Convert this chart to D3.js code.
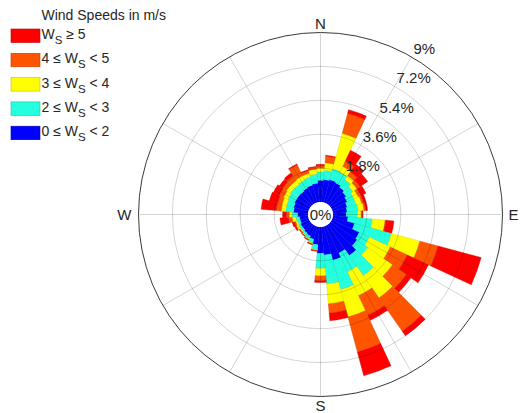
<!DOCTYPE html>
<html>
<head>
<meta charset="utf-8">
<script src="https://cdn.jsdelivr.net/npm/d3@7"></script>
<style>
  body { margin: 0; background: #fff; }
  svg { display: block; }
  text { font-family: "Liberation Sans", Arial, Helvetica, sans-serif; fill: #262626; }
</style>
</head>
<body>
<svg id="chart" width="520" height="413"></svg>
<script>
// Direction bins (degrees, clockwise from north), 10° wide
const directions = d3.range(0, 360, 10);

// Frequency (%) of each speed class per direction bin
const ws0to2 = [1.15,1.20,1.25,1.20,1.10,1.00,0.90,0.80,0.75,0.70,0.80,1.20,1.60,1.70,2.00,1.60,1.85,1.50,
                1.40,0.95,0.70,0.60,0.55,0.50,0.50,0.45,0.45,0.55,0.77,0.80,0.85,0.85,0.85,0.90,0.95,1.00];
const ws2to3 = [0.45,0.50,0.60,0.60,0.50,0.45,0.40,0.50,0.60,0.60,1.30,2.04,0.60,0.70,1.30,1.10,1.61,1.54,
                0.80,0.25,0.20,0.15,0.13,0.12,0.12,0.15,0.20,0.30,0.43,0.40,0.40,0.45,0.45,0.45,0.45,0.50];
const ws3to4 = [0.20,0.40,1.95,0.35,0.25,0.25,0.25,0.30,0.30,0.20,0.68,1.56,1.23,1.60,1.45,1.40,1.51,1.06,
                0.40,0.05,0.05,0.05,0.04,0.05,0.13,0.10,0.20,0.15,0.23,0.25,0.25,0.25,0.25,0.25,0.20,0.25];
const ws4to5 = [0.12,0.35,1.10,0.30,0.25,0.20,0.15,0.10,0.10,0.05,0.04,1.00,0.99,0.90,2.15,1.15,1.93,0.50,
                0.25,0.03,0.02,0.02,0.02,0.03,0.05,0.08,0.20,0.15,0.27,0.25,0.25,0.25,0.30,0.65,0.15,0.10];
const ws5up  = [0.08,0.05,0.20,0.65,0.50,0.50,0.30,0.15,0.10,0.05,0.43,2.37,1.24,0.30,0.30,0.30,1.30,0.40,
                0.10,0.02,0.03,0.03,0.02,0.03,0.05,0.12,0.45,0.20,0.80,0.45,0.35,0.20,0.20,0.05,0.05,0.05];

const speedSeries = [ws0to2, ws2to3, ws3to4, ws4to5, ws5up];
const speedColors = ["#0000ff", "#24ffdd", "#ffff00", "#ff5500", "#ff0000"];

// Legend entries, fastest first: [text before subscript, subscript, text after]
const legendTitle = "Wind Speeds in m/s";
const legendLabels = [
  ["W", "S", " \u2265 5"],
  ["4 \u2264 W", "S", " < 5"],
  ["3 \u2264 W", "S", " < 4"],
  ["2 \u2264 W", "S", " < 3"],
  ["0 \u2264 W", "S", " < 2"]
];

// Radial axis ticks (%) and compass labels
const radialTicks = [1.8, 3.6, 5.4, 7.2, 9];
const radialTickLabels = ["1.8%", "3.6%", "5.4%", "7.2%", "9%"];
const compass = ["N", "E", "S", "W"];

const svg = d3.select("#chart");
const cx = 320.5, cy = 214.5;
const r0 = 12.5, R = 182;
const rScale = d3.scaleLinear().domain([0, 9]).range([r0, R]);
const toRad = d => d * Math.PI / 180;

const g = svg.append("g").attr("transform", `translate(${cx},${cy})`);

// Stacked sectors, slowest class innermost
const arc = d3.arc();
const stack = [];
directions.forEach((dir, i) => {
  let base = 0;
  speedSeries.forEach((series, k) => {
    const v = series[i];
    stack.push({dir, k, lo: base, hi: base + v});
    base += v;
  });
});

g.append("g").selectAll("path")
  .data(stack)
  .join("path")
  .attr("d", d => arc({
    innerRadius: rScale(d.lo),
    outerRadius: rScale(d.hi),
    startAngle: toRad(d.dir - 5),
    endAngle: toRad(d.dir + 5)
  }))
  .attr("fill", d => speedColors[d.k])
  .attr("stroke", d => d3.color(speedColors[d.k]).darker(0.7))
  .attr("stroke-width", 0.35);

// Grid drawn over the bars
const grid = g.append("g").attr("fill", "none");
grid.selectAll("circle.ring")
  .data(radialTicks.slice(0, -1))
  .join("circle")
  .attr("class", "ring")
  .attr("r", d => rScale(d))
  .attr("stroke", "#000")
  .attr("stroke-opacity", 0.19)
  .attr("stroke-width", 0.9);

grid.selectAll("line.spoke")
  .data(d3.range(0, 360, 30))
  .join("line")
  .attr("class", "spoke")
  .attr("x1", d => r0 * Math.sin(toRad(d)))
  .attr("y1", d => -r0 * Math.cos(toRad(d)))
  .attr("x2", d => R * Math.sin(toRad(d)))
  .attr("y2", d => -R * Math.cos(toRad(d)))
  .attr("stroke", "#000")
  .attr("stroke-opacity", 0.19)
  .attr("stroke-width", 0.9);

grid.append("circle")
  .attr("r", rScale(9))
  .attr("stroke", "#3a3a3a")
  .attr("stroke-width", 1);

// Centre disc with the zero label
g.append("circle").attr("r", r0).attr("fill", "#fff");
g.append("text")
  .attr("text-anchor", "middle")
  .attr("y", 5.5)
  .style("font-size", "15px")
  .text("0%");

// Radial tick labels along the 30° spoke
g.append("g").selectAll("text")
  .data(radialTicks)
  .join("text")
  .attr("x", d => rScale(d) * Math.sin(toRad(30)) + 2)
  .attr("y", d => -rScale(d) * Math.cos(toRad(30)) - 3)
  .style("font-size", "15px")
  .text((d, i) => radialTickLabels[i]);

// Compass labels
const lab = g.append("g").style("font-size", "15px");
lab.append("text").attr("text-anchor", "middle").attr("x", 0).attr("y", -R - 4).text(compass[0]);
lab.append("text").attr("text-anchor", "start").attr("x", R + 6).attr("y", 5.5).text(compass[1]);
lab.append("text").attr("text-anchor", "middle").attr("x", 0).attr("y", R + 14.5).text(compass[2]);
lab.append("text").attr("text-anchor", "end").attr("x", -R - 7).attr("y", 5.5).text(compass[3]);

// Legend
const legend = svg.append("g");
legend.append("text")
  .attr("x", 41.5).attr("y", 20)
  .style("font-size", "14px")
  .text(legendTitle);

const legendColors = speedColors.slice().reverse();
const rows = legend.selectAll("g.row")
  .data(legendLabels)
  .join("g")
  .attr("class", "row")
  .attr("transform", (d, i) => `translate(0,${29 + i * 24.3})`);

rows.append("rect")
  .attr("x", 11).attr("y", 0)
  .attr("width", 29).attr("height", 13.5)
  .attr("fill", (d, i) => legendColors[i])
  .attr("stroke", (d, i) => d3.color(legendColors[i]).darker(0.8))
  .attr("stroke-width", 0.6);

const lt = rows.append("text")
  .attr("x", 41.5).attr("y", 10)
  .style("font-size", "14px");
lt.append("tspan").text(d => d[0]);
lt.append("tspan").attr("dy", 5).style("font-size", "11.5px").text(d => d[1]);
lt.append("tspan").attr("dy", -5).text(d => d[2]);
</script>
</body>
</html>
